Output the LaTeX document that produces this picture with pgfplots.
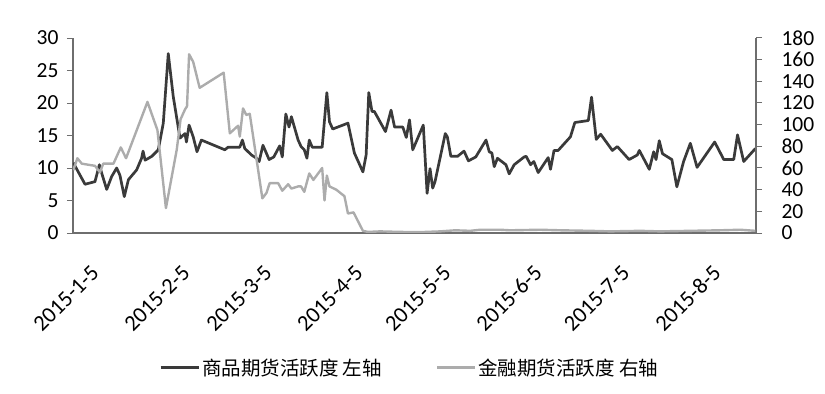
\documentclass[border=0pt]{standalone}
\usepackage{pgfplots}
\usepackage{pgfplotstable}
\pgfplotsset{compat=1.18}
\usepackage{fontspec}
\setmainfont{Carlito}
\newfontfamily\cjk{Noto Sans CJK SC}
\definecolor{darkline}{RGB}{58,58,58}
\definecolor{lightline}{RGB}{172,172,172}
\definecolor{axisgray}{RGB}{110,110,110}

% day = days since 2015-1-5
\pgfplotstableread{
day val
0.1 10.8
4.1 7.5
7.5 7.9
9.0 10.5
9.8 9.2
11.5 6.7
13.2 8.7
14.9 10.0
16.0 8.9
17.5 5.6
18.9 8.2
21.7 9.7
23.4 11.5
23.9 12.6
24.6 11.2
26.9 11.8
29.1 12.8
30.8 16.9
32.5 27.6
34.2 21.0
36.5 14.6
38.2 15.3
38.7 14.0
39.6 16.6
41.0 14.8
42.3 12.5
43.8 14.3
51.8 12.8
52.9 13.2
56.9 13.2
57.8 14.3
58.6 13.0
60.9 12.0
62.6 11.5
63.5 11.0
64.8 13.5
66.9 11.3
68.5 11.7
70.5 13.4
71.4 11.7
72.6 18.3
73.7 16.3
74.5 17.9
76.8 14.3
77.8 13.3
78.9 12.8
79.8 11.5
80.6 14.3
81.6 13.2
85.0 13.2
86.6 21.6
87.5 17.1
88.6 16.0
93.8 16.9
96.0 12.3
98.9 9.4
100.0 12.0
100.9 21.6
102.0 18.7
102.8 18.7
106.6 15.6
108.5 18.9
109.7 16.3
112.5 16.3
113.7 14.7
114.8 17.4
115.9 12.8
119.5 16.6
120.8 6.1
121.8 9.9
122.7 6.9
123.5 7.9
127.0 15.3
127.7 14.8
128.9 11.8
131.2 11.8
133.4 12.6
134.9 11.1
137.4 11.7
140.9 14.3
142.0 12.5
142.9 12.3
143.7 10.2
144.8 11.5
147.7 10.5
148.8 9.1
150.5 10.5
153.9 11.7
154.6 11.8
156.1 10.5
157.2 11.0
158.7 9.3
162.1 11.6
162.9 9.8
164.1 12.7
165.5 12.7
169.7 14.8
171.2 17.0
175.8 17.3
176.9 20.9
178.5 14.4
180.0 15.2
184.0 12.7
185.7 13.3
189.7 11.3
192.5 12.0
193.2 12.7
196.6 9.8
198.1 12.5
198.9 11.3
200.0 14.2
201.1 12.2
204.3 11.3
206.0 7.1
208.3 11.0
210.6 13.8
212.9 10.1
218.9 14.0
222.0 11.3
225.4 11.3
226.7 15.1
228.8 11.0
232.8 13.0
}\comm

\pgfplotstableread{
day val
0.1 58
1.5 69
3.0 64
7.5 62
9.2 56
10.3 64
13.8 64
16.3 79
18.1 69
25.4 121
28.8 95
31.7 23
35.4 77
36.7 105
38.2 114
38.9 117
39.6 165
41.0 158
43.2 134
51.4 148
53.5 92
56.3 99
56.9 89
58.0 115
59.1 109
60.3 110
64.6 32
66.0 37
67.1 46
70.0 46
71.4 39
73.4 45
74.5 41
76.8 43
77.8 43
78.9 38
80.6 55
82.0 49
85.0 60
85.8 30
86.6 53
87.5 43
89.8 40
92.6 34
93.8 18
95.7 19
98.9 2
100.6 1
104.8 1.5
111.6 1
118.4 0.8
125.3 1.5
130.4 2.5
135.5 2.0
138.9 3
145.7 3
149.1 2.5
159.4 3
166.2 2.5
176.5 2
183.3 1.5
193.5 2
200.3 1.5
210.6 2
220.8 2.5
227.6 3
232.8 2
}\fin

\pgfplotsset{
  common/.style={
    scale only axis, width=683bp, height=195bp,
    xmin=0, xmax=233,
    axis line style={axisgray, line width=1.1bp},
    tick style={axisgray, line width=1bp},
    major tick length=6bp,
    tick align=outside,
    ticklabel style={font=\fontsize{21.5bp}{24bp}\selectfont, text=black},
    /pgf/number format/assume math mode=true,
  }
}

\begin{document}
\begin{tikzpicture}
\path[use as bounding box] (-73bp,-161bp) rectangle (752bp,233bp);
\begin{axis}[common,
  axis y line*=left, axis x line*=bottom,
  ymin=0, ymax=30, ytick={0,5,...,30},
  yticklabel style={xshift=-5bp},
  xtick={0,31,59,90,120,151,181,212},
  xticklabels={2015-1-5,2015-2-5,2015-3-5,2015-4-5,2015-5-5,2015-6-5,2015-7-5,2015-8-5},
  x tick style={draw=none},
  xticklabel style={rotate=45, anchor=north east, yshift=-26bp, xshift=-2bp,
    font=\fontsize{22.5bp}{25bp}\selectfont},
  legend style={draw=none, fill=none, at={(0.493,-0.69)}, anchor=center,
    font=\fontsize{19.5bp}{22bp}\selectfont, legend columns=2,
    /tikz/every even column/.append style={column sep=52bp}},
  legend image code/.code={\draw[#1] (0bp,0bp) -- (38bp,0bp);},
]
\addplot[darkline, line width=2.7bp, line join=round] table[x=day, y=val] {\comm};
\addlegendentry{\cjk 商品期货活跃度 左轴}
\addlegendimage{lightline, line width=2.4bp}
\addlegendentry{\cjk 金融期货活跃度 右轴}
\end{axis}
\begin{axis}[common,
  axis y line*=right, axis x line=none,
  ymin=0, ymax=180, ytick={0,20,...,180},
  yticklabel style={xshift=16bp},
]
\addplot[lightline, line width=2.4bp, line join=round] table[x=day, y=val] {\fin};
\end{axis}
\end{tikzpicture}
\end{document}
